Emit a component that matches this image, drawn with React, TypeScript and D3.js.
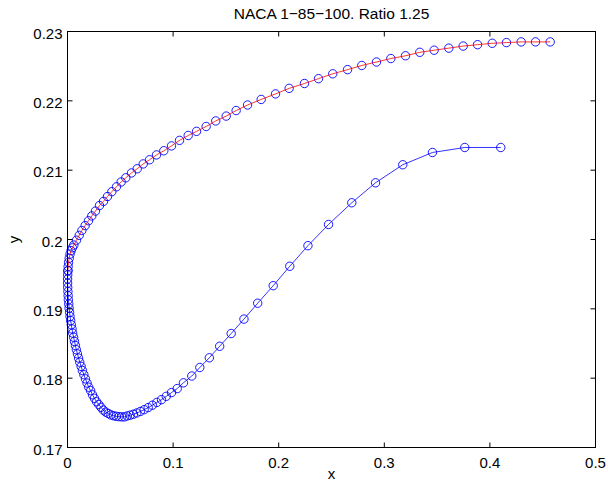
import React from "react";
import * as d3 from "d3";

// Upper surface (red line, blue circles)
const upperX = [0.0004, 0.0006, 0.0010, 0.0016, 0.0024, 0.0034, 0.0046, 0.0060, 0.0085, 0.0111, 0.0136, 0.0167, 0.0199, 0.0230, 0.0265, 0.0303, 0.0341, 0.0379, 0.0420, 0.0464, 0.0508, 0.0552, 0.0606, 0.0660, 0.0717, 0.0777, 0.0843, 0.0912, 0.0985, 0.1061, 0.1143, 0.1222, 0.1313, 0.1404, 0.1503, 0.1597, 0.1705, 0.1834, 0.1970, 0.2099, 0.2244, 0.2377, 0.2512, 0.2652, 0.2787, 0.2926, 0.3062, 0.3201, 0.3336, 0.3472, 0.3611, 0.3747, 0.3883, 0.4022, 0.4157, 0.4296, 0.4432, 0.4571];
const upperY = [0.1955, 0.1961, 0.1967, 0.1973, 0.1979, 0.1984, 0.1988, 0.1992, 0.1999, 0.2006, 0.2013, 0.2020, 0.2027, 0.2034, 0.2041, 0.2049, 0.2055, 0.2062, 0.2069, 0.2076, 0.2083, 0.2089, 0.2096, 0.2102, 0.2109, 0.2115, 0.2122, 0.2128, 0.2135, 0.2143, 0.2150, 0.2156, 0.2163, 0.2171, 0.2178, 0.2186, 0.2194, 0.2202, 0.2210, 0.2218, 0.2225, 0.2232, 0.2239, 0.2245, 0.2251, 0.2256, 0.2261, 0.2265, 0.2270, 0.2273, 0.2276, 0.2279, 0.2281, 0.2283, 0.2284, 0.2285, 0.2285, 0.2285];

// Lower surface (blue line, blue circles)
const lowerX = [0.0004, 0.0002, 0.0001, 0.0001, 0.0002, 0.0004, 0.0006, 0.0008, 0.0012, 0.0015, 0.0020, 0.0024, 0.0030, 0.0036, 0.0043, 0.0049, 0.0058, 0.0066, 0.0075, 0.0084, 0.0094, 0.0105, 0.0116, 0.0129, 0.0141, 0.0155, 0.0170, 0.0185, 0.0201, 0.0219, 0.0237, 0.0255, 0.0275, 0.0296, 0.0317, 0.0339, 0.0362, 0.0386, 0.0411, 0.0436, 0.0461, 0.0488, 0.0514, 0.0541, 0.0566, 0.0594, 0.0624, 0.0656, 0.0690, 0.0726, 0.0764, 0.0804, 0.0846, 0.0890, 0.0935, 0.0985, 0.1039, 0.1098, 0.1177, 0.1253, 0.1343, 0.1441, 0.1550, 0.1671, 0.1801, 0.1948, 0.2105, 0.2277, 0.2472, 0.2692, 0.2917, 0.3175, 0.3456, 0.3762, 0.4103];
const lowerY = [0.1955, 0.1949, 0.1943, 0.1937, 0.1931, 0.1925, 0.1919, 0.1913, 0.1907, 0.1901, 0.1895, 0.1889, 0.1883, 0.1877, 0.1871, 0.1865, 0.1859, 0.1853, 0.1847, 0.1841, 0.1835, 0.1829, 0.1823, 0.1817, 0.1811, 0.1805, 0.1799, 0.1793, 0.1787, 0.1782, 0.1776, 0.1771, 0.1766, 0.1762, 0.1758, 0.1754, 0.1751, 0.1749, 0.1747, 0.17458, 0.17450, 0.17445, 0.17442, 0.17442, 0.17455, 0.17466, 0.17480, 0.17498, 0.17520, 0.17546, 0.17576, 0.17610, 0.17650, 0.17690, 0.17738, 0.17792, 0.17850, 0.17933, 0.18031, 0.18154, 0.18294, 0.18460, 0.18644, 0.18852, 0.19081, 0.19334, 0.19614, 0.19911, 0.20217, 0.20530, 0.20818, 0.21078, 0.21255, 0.21327, 0.21327];

const xTicks = [0, 0.1, 0.2, 0.3, 0.4, 0.5];
const yTicks = [0.17, 0.18, 0.19, 0.2, 0.21, 0.22, 0.23];
const xTickLabels = ["0", "0.1", "0.2", "0.3", "0.4", "0.5"];
const yTickLabels = ["0.17", "0.18", "0.19", "0.2", "0.21", "0.22", "0.23"];

const W = 608;
const H = 494;
const L = 67.5, R = 595.5, T = 31.5, B = 447.5;
const FONT = "'Liberation Sans', Arial, Helvetica, sans-serif";

export default function App() {
  const x = d3.scaleLinear().domain([0, 0.5]).range([L, R]);
  const y = d3.scaleLinear().domain([0.17, 0.23]).range([B, T]);
  const upper = upperX.map((v, i) => [v, upperY[i]] as [number, number]);
  const lower = lowerX.map((v, i) => [v, lowerY[i]] as [number, number]);
  const line = d3.line<[number, number]>().x((d) => x(d[0])).y((d) => y(d[1]));
  const tl = 5;
  return (
    <svg width={W} height={H} style={{ position: "absolute", left: 0, top: 0, background: "#fff" }} fontFamily={FONT}>
      <rect x={0} y={0} width={W} height={H} fill="#fff" />
      <rect x={L} y={T} width={R - L} height={B - T} fill="#fff" />
      {/* lower curve */}
      <path d={line(lower) || ""} fill="none" stroke="#0000ff" strokeWidth={0.8} />
      {lower.map((d, i) => (
        <circle key={"l" + i} cx={x(d[0])} cy={y(d[1])} r={4.2} fill="none" stroke="#0000ff" strokeWidth={0.9} />
      ))}
      {upper.map((d, i) => (
        <circle key={"u" + i} cx={x(d[0])} cy={y(d[1])} r={4.2} fill="none" stroke="#0000ff" strokeWidth={0.9} />
      ))}
      <path d={line(upper) || ""} fill="none" stroke="#ff0000" strokeWidth={0.8} />
      {/* box */}
      <rect x={L} y={T} width={R - L} height={B - T} fill="none" stroke="#000" strokeWidth={1} />
      {xTicks.map((t, i) => (
        <g key={"xt" + i}>
          <line x1={x(t)} x2={x(t)} y1={B} y2={B - tl} stroke="#000" />
          <line x1={x(t)} x2={x(t)} y1={T} y2={T + tl} stroke="#000" />
          <text x={x(t)} y={B + 20} textAnchor="middle" fontSize={15} fill="#000">{xTickLabels[i]}</text>
        </g>
      ))}
      {yTicks.map((t, i) => (
        <g key={"yt" + i}>
          <line x1={L} x2={L + tl} y1={y(t)} y2={y(t)} stroke="#000" />
          <line x1={R} x2={R - tl} y1={y(t)} y2={y(t)} stroke="#000" />
          <text x={L - 5} y={y(t) + 7} textAnchor="end" fontSize={15} fill="#000">{yTickLabels[i]}</text>
        </g>
      ))}
      <text x={(L + R) / 2} y={479} textAnchor="middle" fontSize={15} fill="#000">x</text>
      <text transform={`translate(19, ${(T + B) / 2}) rotate(-90)`} textAnchor="middle" fontSize={15} fill="#000">y</text>
      <text x={(L + R) / 2} y={19} textAnchor="middle" fontSize={15.5} fill="#000">NACA 1−85−100. Ratio 1.25</text>
    </svg>
  );
}
